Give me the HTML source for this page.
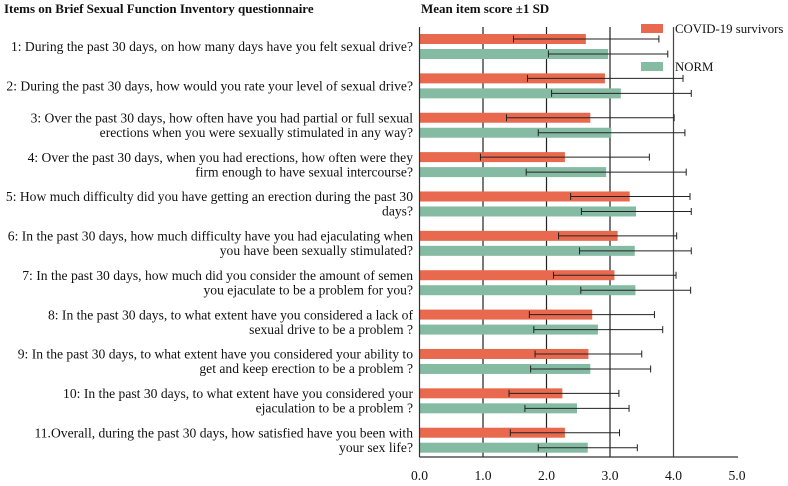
<!DOCTYPE html>
<html><head><meta charset="utf-8"><style>
body{margin:0;background:#fff;}
svg text{font-family:"Liberation Serif","Times New Roman",serif;fill:#111;}
</style></head><body>
<svg id="chart" width="788" height="481" xmlns="http://www.w3.org/2000/svg" font-family="Liberation Serif, serif">
<text x="4" y="13" font-size="13" font-weight="bold">Items on Brief Sexual Function Inventory questionnaire</text>
<text x="421" y="13" font-size="13" font-weight="bold">Mean item score ±1 SD</text>
<g id="grid"></g><g id="bars"></g><g id="labels"></g><g id="axis"></g>
<g>
<rect x="641" y="24" width="22" height="9" fill="#e8694e"/>
<text x="675" y="33" font-size="12.8">COVID-19 survivors</text>
<rect x="641" y="62" width="22" height="9" fill="#85bba2"/>
<text x="675" y="71" font-size="12.8">NORM</text>
</g>
</svg>
<script>
const items=[["1: During the past 30 days, on how many days have you felt sexual drive?"],["2: During the past 30 days, how would you rate your level of sexual drive?"],["3: Over the past 30 days, how often have you had partial or full sexual","erections when you were sexually stimulated in any way?"],["4: Over the past 30 days, when you had erections, how often were they","firm enough to have sexual intercourse?"],["5: How much difficulty did you have getting an erection during the past 30","days?"],["6: In the past 30 days, how much difficulty have you had ejaculating when","you have been sexually stimulated?"],["7: In the past 30 days, how much did you consider the amount of semen","you ejaculate to be a problem for you?"],["8: In the past 30 days, to what extent have you considered a lack of","sexual drive to be a problem ?"],["9: In the past 30 days, to what extent have you considered your ability to","get and keep erection to be a problem ?"],["10: In the past 30 days, to what extent have you considered your","ejaculation to be a problem ?"],["11.Overall, during the past 30 days, how satisfied have you been with","your sex life?"]];
const covidMean=[2.62,2.92,2.69,2.29,3.31,3.12,3.07,2.72,2.66,2.25,2.29];
const covidLow=[1.48,1.70,1.37,0.96,2.38,2.19,2.11,1.73,1.82,1.41,1.43];
const covidHigh=[3.77,4.15,4.01,3.62,4.26,4.05,4.04,3.70,3.50,3.14,3.15];
const normMean=[2.97,3.17,3.02,2.94,3.41,3.39,3.40,2.81,2.69,2.48,2.65];
const normLow=[2.03,2.08,1.87,1.68,2.55,2.52,2.54,1.80,1.75,1.66,1.87];
const normHigh=[3.91,4.28,4.18,4.20,4.28,4.28,4.27,3.83,3.64,3.30,3.43];
const ticks=["0.0","1.0","2.0","3.0","4.0","5.0"];
const NS="http://www.w3.org/2000/svg";
const x=v=>419.5+v*63.5;
const rowY=i=>39+i*39.37;
function mk(t,a,p){const e=document.createElementNS(NS,t);for(const k in a)e.setAttribute(k,a[k]);document.getElementById(p).appendChild(e);return e;}
ticks.forEach((t,i)=>{
 if(i>0&&i<5){const g=mk('line',{x1:x(i),x2:x(i),y1:27,y2:457,stroke:i==4?'#444':'#222','stroke-width':1.2},'grid');
 
 }
 const tl=mk('text',{x:x(i),y:480,'font-size':13.6,'text-anchor':'middle','font-family':'Liberation Serif, serif'},'axis');tl.textContent=t;
 
 
});
const ax=mk('line',{x1:x(0),x2:738,y1:457,y2:457,stroke:'#333','stroke-width':1.2},'axis');


const ay=mk('line',{x1:x(0),x2:x(0),y1:27,y2:457,stroke:'#333','stroke-width':1.2},'axis');


function bar(i,m,lo,hi,yc,col,name){
 const r=mk('rect',{x:x(0),y:yc-5,width:x(m)-x(0),height:10,fill:col},'bars');
 
 
 const e=mk('path',{d:`M${x(lo)},${yc}H${x(hi)}M${x(lo)},${yc-3.5}V${yc+3.5}M${x(hi)},${yc-3.5}V${yc+3.5}`,stroke:'#222','stroke-width':1,fill:'none'},'bars');
 
 
}
items.forEach((lines,i)=>{
 bar(i,covidMean[i],covidLow[i],covidHigh[i],rowY(i),'#e8694e','covid');
 bar(i,normMean[i],normLow[i],normHigh[i],rowY(i)+15,'#85bba2','norm');
 const c=rowY(i)+7.5,n=lines.length;
 lines.forEach((l,j)=>{
  const t=mk('text',{x:413,y:c+4.5+(j-(n-1)/2)*14.5,'font-size':13.6,'text-anchor':'end','font-family':'Liberation Serif, serif'},'labels');t.textContent=l;
  
  
 });
});
</script>
</body></html>
